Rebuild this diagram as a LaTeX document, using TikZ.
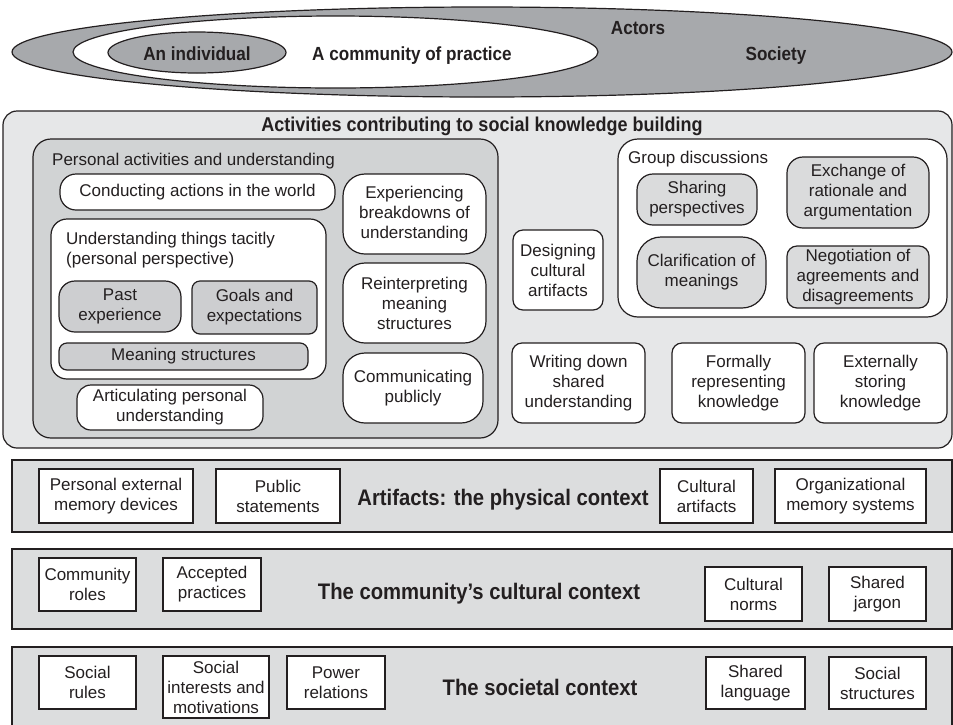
\documentclass[tikz,border=0pt]{standalone}
\usepackage{fontspec}
\setmainfont{Liberation Sans}
\newfontfamily\titlefont{Liberation Sans}[FakeStretch=0.9]
\usetikzlibrary{shapes.geometric}
\definecolor{ink}{HTML}{231F20}
\definecolor{ellgray}{HTML}{A7A9AC}
\definecolor{actbg}{HTML}{E6E7E8}
\definecolor{perbg}{HTML}{D1D3D4}
\definecolor{grpgray}{HTML}{DADBDC}
\definecolor{innergray}{HTML}{CDCED0}
\definecolor{bandbg}{HTML}{DCDDDE}
\newcommand\Rbox[7]{\node[#1, minimum width={(#5-#3)*1pt}, minimum height={(#6-#4)*1pt}] (#2) at ({(#3+#5)/2},{(#4+#6)/2}) {#7};}
\begin{document}
\begin{tikzpicture}[x=1pt, y=-1pt,
  base/.style={draw=ink, line width=1.2pt, inner sep=0pt, outer sep=0pt, align=center, text=ink, font=\fontsize{17}{20}\selectfont},
  wbox/.style={base, fill=white, rounded corners=#1},
  wbox/.default=10pt,
  gbox/.style={base, fill=innergray, rounded corners=#1},
  gbox/.default=10pt,
  pbox/.style={base, fill=perbg, rounded corners=#1},
  pbox/.default=10pt,
  qbox/.style={base, fill=grpgray, rounded corners=#1},
  qbox/.default=10pt,
  sqbox/.style={base, fill=white},
  band/.style={base, fill=bandbg},
  ttl/.style={text=ink, inner sep=0pt, anchor=base, font=\titlefont\bfseries\fontsize{22.5}{26}\selectfont},
  lbl/.style={text=ink, inner sep=0pt, align=left, font=\fontsize{17}{20.5}\selectfont},
  ell/.style={ellipse, draw=ink, line width=1.2pt, inner sep=0pt, outer sep=0pt},
  elltxt/.style={text=ink, inner sep=0pt, anchor=base, font=\titlefont\bfseries\fontsize{19}{22}\selectfont}
]
\useasboundingbox (0,0) rectangle (953,724);
\clip (0,0) rectangle (953,724);

% Actors ellipses
\node[ell, fill=ellgray, minimum width=940pt, minimum height=90pt] (society) at (482,52) {};
\node[ell, fill=white, minimum width=525pt, minimum height=72pt] (community) at (335.5,52) {};
\node[ell, fill=ellgray, minimum width=178pt, minimum height=41pt] (individual) at (197,52.5) {};
\node[elltxt] (indtxt) at (197,60) {An individual};
\node[elltxt] (comtxt) at (412,60) {A community of practice};
\node[elltxt] (actors) at (638,34) {Actors};
\node[elltxt] (soctxt) at (776,60) {Society};

% Activities
\Rbox{base, fill=actbg, rounded corners=14pt}{activities}{3}{111}{952}{448}{}
\node[ttl, font=\titlefont\bfseries\fontsize{20}{24}\selectfont] (acttitle) at (482,131) {Activities contributing to social knowledge building};

\Rbox{pbox=18pt}{personal}{33}{139}{498}{438}{}
\node[lbl, anchor=base west] (perlbl) at (52,165) {Personal activities and understanding};
\Rbox{wbox=16pt}{conducting}{60}{174}{335}{210}{Conducting actions in the world}
\Rbox{wbox=16pt}{tacit}{51}{219}{326}{379}{}
\node[lbl, anchor=north west] (tacitlbl) at (66,231.5) {Understanding things tacitly\\(personal perspective)};
\Rbox{gbox=16pt}{past}{59}{281}{181}{332}{Past\\experience}
\Rbox{gbox=8pt}{goals}{192}{281}{317}{334}{Goals and\\expectations}
\Rbox{gbox=8pt}{meaning}{59}{343}{308}{370}{Meaning structures}
\Rbox{wbox=14pt}{articulating}{77}{385}{263}{430}{Articulating personal\\understanding}
\Rbox{wbox=22pt}{experiencing}{343}{174}{486}{254}{Experiencing\\breakdowns of\\understanding}
\Rbox{wbox=22pt}{reinterpreting}{343}{263}{486}{343}{Reinterpreting\\meaning\\structures}
\Rbox{wbox=22pt}{communicating}{343}{353}{483}{423}{Communicating\\publicly}

\Rbox{wbox=10pt}{designing}{513}{230}{603}{310}{Designing\\cultural\\artifacts}
\Rbox{wbox=20pt}{group}{618}{139}{947}{317}{}
\node[lbl, anchor=base west] (grouplbl) at (628,163) {Group discussions};
\Rbox{qbox=16pt}{sharing}{637}{174}{757}{225}{Sharing\\perspectives}
\Rbox{qbox=16pt}{exchange}{787}{157}{929}{228}{Exchange of\\rationale and\\argumentation}
\Rbox{qbox=24pt}{clarification}{637}{237}{766}{308}{Clarification of\\meanings}
\Rbox{qbox=10pt}{negotiation}{787}{246}{929}{308}{Negotiation of\\agreements and\\disagreements}
\Rbox{wbox=10pt}{writing}{512}{343}{645}{423}{Writing down\\shared\\understanding}
\Rbox{wbox=10pt}{formally}{672}{343}{805}{423}{Formally\\representing\\knowledge}
\Rbox{wbox=10pt}{externally}{814}{343}{947}{423}{Externally\\storing\\knowledge}

% Artifacts band
\Rbox{band}{artband}{12}{460}{952}{532}{}
\node[ttl] (arttitle) at (503,505.5) {Artifacts: the physical context};
\Rbox{sqbox}{pemd}{39}{469}{193}{523}{Personal external\\memory devices}
\Rbox{sqbox}{pubst}{216}{469}{340}{523}{Public\\statements}
\Rbox{sqbox}{cultart}{660}{469}{753}{523}{Cultural\\artifacts}
\Rbox{sqbox}{orgmem}{775}{469}{926}{523}{Organizational\\memory systems}

% Cultural band
\Rbox{band}{culband}{12}{549}{952}{629}{}
\node[ttl] (cultitle) at (479,599.5) {The community’s cultural context};
\Rbox{sqbox}{comroles}{39}{558}{136}{611}{Community\\roles}
\Rbox{sqbox}{accprac}{163}{558}{261}{611}{Accepted\\practices}
\Rbox{sqbox}{culnorms}{705}{567}{802}{621}{Cultural\\norms}
\Rbox{sqbox}{jargon}{829}{567}{926}{621}{Shared\\jargon}

% Societal band
\Rbox{band}{socband}{12}{647}{952}{732}{}
\node[ttl] (soctitle) at (540,695.5) {The societal context};
\Rbox{sqbox}{socrules}{39}{656}{136}{709}{Social\\rules}
\Rbox{sqbox}{socint}{163}{656}{269}{718}{Social\\interests and\\motivations}
\Rbox{sqbox}{power}{287}{656}{385}{709}{Power\\relations}
\Rbox{sqbox}{language}{706}{657}{805}{709}{Shared\\language}
\Rbox{sqbox}{structures}{829}{657}{926}{709}{Social\\structures}
\end{tikzpicture}
\end{document}
